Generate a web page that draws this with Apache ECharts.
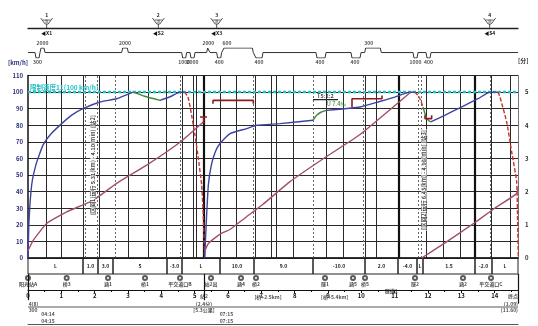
<!DOCTYPE html>
<html>
<head>
<meta charset="utf-8">
<script src="https://cdn.jsdelivr.net/npm/echarts@6/dist/echarts.min.js"></script>
<style>
html,body{margin:0;padding:0;background:#fff;}
#c{width:538px;height:326px;}
</style>
</head>
<body>
<div id="c"></div>
<script>
// ---- run profile data: distance in km, speed in km/h, time in minutes ----
const KM_MAX = 14.7;
const SPEED_LIMIT = 100;

// traction (blue), coasting (green), braking (red) pieces of the speed curve
const driveA  = [[0,0],[0.03,22],[0.11,44],[0.25,57],[0.45,68],[0.7,75],[1.01,81],[1.3,86],[1.65,90],[2.16,94],[2.66,96],[3.15,100]];
const coastA  = [[3.15,100],[3.5,97.5],[3.96,95]];
const driveA2 = [[3.96,95],[4.3,97.5],[4.56,100],[4.7,100]];
const brakeA  = [[4.7,100],[4.8,97],[4.91,86],[5.01,74],[5.11,60],[5.21,44],[5.26,25],[5.3,0]];

const driveB  = [[5.3,0],[5.35,22],[5.41,44],[5.5,56],[5.62,64],[5.76,69],[6.06,75],[6.56,78],[6.86,80],[7.56,81],[8.55,83]];
const coastB  = [[8.55,83],[8.66,86],[8.8,88],[8.96,89]];
const driveB2 = [[8.96,89],[9.96,91],[10.5,94],[11.0,97],[11.46,100],[11.6,100]];
const brakeB  = [[11.6,100],[11.7,98],[11.78,95],[11.85,91]];
const coastC  = [[11.85,91],[11.96,84],[12.08,82]];
const driveC  = [[12.08,82],[12.5,86],[13.0,91],[13.5,96],[13.86,100],[14.1,100]];
const brakeC  = [[14.1,100],[14.16,97],[14.36,82],[14.51,64],[14.66,46],[14.69,20],[14.71,0]];

// cumulative running time per section (right axis, minutes)
const timeA = [[0,0.22],[0.16,0.54],[0.56,1.04],[1.16,1.39],[1.96,1.74],[2.66,2.25],[3.56,2.8],[4.56,3.49],[5.26,4.1]];
const timeB = [[5.3,0.2],[5.4,0.42],[5.55,0.56],[5.8,0.74],[6.06,0.86],[6.5,1.2],[7.05,1.62],[7.86,2.3],[8.9,3.02],[9.96,3.72],[11.46,4.98]];
const timeC = [[11.81,0],[12.5,0.45],[13.41,1.07],[14.0,1.5],[14.66,1.94],[14.71,2.15]];

// target-speed brackets
const bracket1 = [[5.55,93],[5.55,95],[6.76,95],[6.76,93]];
const bracket2 = [[9.72,91],[9.72,96],[10.62,96],[10.62,98]];
const bracket3 = [[5.16,85],[5.37,85]];
const bracket3s = [[5.27,85],[5.27,81]];
const bracket4 = [[11.91,86],[11.91,84],[12.11,84],[12.11,86]];
const bracket5 = [[8.55,95.5],[9.3,95.5]];

// axis ticks
const speedTicks = {min:0, max:110, step:10};
const timeTicks = {min:0, max:5.5, step:1};

// grade sections
const gradeFrom = [0,1.65,2.1,2.55,4.17,4.62,5.76,6.78,8.55,10.11,11.1,11.67,11.85,13.41,13.92];
const gradeTo   = [1.65,2.1,2.55,4.17,4.62,5.76,6.78,8.55,10.11,11.1,11.67,11.85,13.41,13.92,14.7];
const gradeText = ['L','1.0','3.0','5','-3.0','L','10.0','9.0','-10.0','2.0','-4.0','L','1.5','-2.0','L'];

// curves: +1 right, -1 left, with radius
const curveFrom = [0.21,0.36,2.81,4.61,4.86,5.36,5.66,5.85,6.81,8.64,9.69,10.1,11.55,11.94];
const curveTo   = [0.36,0.51,3.01,4.76,5.01,5.46,5.81,6.76,7.05,8.94,9.99,10.6,11.7,12.09];
const curveDir  = [-1,1,1,-1,-1,1,-1,1,-1,-1,-1,1,-1,-1];
const curveRad  = ['300','2000','2000','1000','2000','2000','400','600','400','400','400','300','1000','400'];

// signals
const signalKm = [0.56,3.91,5.66,13.85];
const signalNo = ['1','2','3','4'];
const signalName = ['X1','S2','X3','S4'];

// wayside objects
const siteKm = [0,1.16,2.4,3.51,4.56,5.49,6.39,6.84,8.91,9.75,10.11,11.61,13.05,13.89];
const siteName = ['阳光站A','桥3','涵1','桥1','平交道口B','站2出','涵4','桥2','隧1','涵5','桥5','隧2','涵2','平交道口C'];

// grid marks along the line
const solidKm = [0.54,1.01,1.66,2.13,3.01,3.61,4.16,4.63,4.96,5.04,5.76,6.26,6.81,7.31,7.46,7.96,8.96,9.46,10.11,10.46,11.96,12.46,12.96,13.91,14.46];
const heavyKm = [5.28,11.11,13.41];
const dashKm = [1.71,2.08,2.61,4.56,6.76,8.56,10.06,11.71,11.81,13.86];
const stopKm = [0,5.28,14.7];

// station notes under the km scale
const noteKm    = [0.02,0.02,5.28,5.28,5.28,14.7,14.7,14.7,0.4,0.4,5.75,5.75,7.2,9.2,10.9];
const noteLevel = [0.59,0.41,0.82,0.59,0.41,0.82,0.59,0.41,0.29,0.09,0.29,0.09,0.8,0.8,0.97];
const noteText  = ['4(8)','300','站2','(2.4分)','[5.3公里]','终点','(1.09)','(11.60)','04:14','04:15','07:15','07:15','[桥+2.5km]','[桥+5.4km]','隧道1'];
const noteAlign = ['left','left','center','center','center','right','right','right','left','left','left','left','center','center','center'];

// section summaries written along the curve
const sumKm = [1.95,11.88];
const sumSpeed = [56,47];
const sumText = ['[区间1]运行 5.31(km) - 4.10(min) [站2]','[区间2]运行 6.43(km) - 4.98(min) [站3]'];

const FONT = "'Noto Sans CJK SC','DejaVu Sans',sans-serif";
const BLUE = '#3d43a0', GREEN = '#3f8a3a', RED = '#c8322b', MAUVE = '#a24f6e', MAROON = '#8e1b1f', CYAN = '#25bfc4';

const chart = echarts.init(document.getElementById('c'));

function seg(data, color, dashed, yIdx) {
  return {
    type:'line', xAxisIndex:0, yAxisIndex:yIdx||0, data, symbol:'none', silent:true, z:6,
    smooth:0.15, lineStyle:{color, width:1.4, type: dashed ? [4,2] : 'solid'}
  };
}
function poly(data, color, w) {
  return {type:'line', xAxisIndex:0, yAxisIndex:0, data, symbol:'none', silent:true, z:7,
    lineStyle:{color, width:w||1.6}};
}

// curve diagram line
const curvePts = [[0,0]];
curveFrom.forEach((s,i)=>{
  const e = curveTo[i], lv = curveDir[i] > 0 ? 1 : -1.2;
  curvePts.push([s,0],[s+0.03,lv],[e-0.03,lv],[e,0]);
});
curvePts.push([KM_MAX,0]);
const curveLabels = curveFrom.map((s,i)=>{
  const e = curveTo[i];
  const x = s + Math.min((e-s)/2, 0.12);
  return {value:[x, curveDir[i] > 0 ? 1 : -1.2], label:{position: curveDir[i] > 0 ? 'top' : 'bottom', formatter: curveRad[i]}};
});

const vLines = [];
solidKm.forEach(v=>vLines.push({xAxis:v, lineStyle:{color:'#2a2a2a', width:1, type:'solid'}}));
heavyKm.forEach(v=>vLines.push({xAxis:v, lineStyle:{color:'#111', width:2.2, type:'solid'}}));
dashKm.forEach(v=>vLines.push({xAxis:v, lineStyle:{color:'#666', width:1, type:[2,2]}}));

const grids = [
  {left:28, right:20, top:75.5, height:182.5},
  {left:28, right:20, top:258, height:16},
  {left:28, right:20, top:274, height:16},
  {left:28, right:20, top:290, height:34},
  {left:28, right:20, top:0, height:28},
  {left:28, right:20, top:48, height:10}
];
const kmAxis = (gi, extra) => Object.assign({type:'value', gridIndex:gi, min:0, max:KM_MAX, splitLine:{show:false}, axisTick:{show:false}, axisLabel:{show:false}, axisLine:{show:false}}, extra||{});
const hidY = (gi, mn, mx) => ({type:'value', gridIndex:gi, min:mn, max:mx, show:false});

const option = {
  backgroundColor:'#fff',
  animation:false,
  textStyle:{fontFamily:FONT},
  grid: grids,
  xAxis: [
    kmAxis(0, {axisLine:{show:true, onZero:false, lineStyle:{color:'#111', width:1.5}}}),
    kmAxis(1),
    kmAxis(2, {axisLine:{show:true, onZero:false, lineStyle:{color:'#111', width:1}},
      interval:1, axisTick:{show:true, length:3, lineStyle:{color:'#111'}},
      minorTick:{show:true, splitNumber:2, length:2, lineStyle:{color:'#111'}},
      axisLabel:{show:true, fontSize:6, fontWeight:'bold', color:'#111', margin:3,
        formatter: v => Number.isInteger(v) && v <= 14 ? String(v) : ''}}),
    kmAxis(3, {axisLine:{show:true, onZero:false, lineStyle:{color:'#555', width:1}}}),
    kmAxis(4, {axisLine:{show:true, onZero:false, lineStyle:{color:'#222', width:1.3}}}),
    kmAxis(5)
  ],
  yAxis: [
    {type:'value', gridIndex:0, min:speedTicks.min, max:speedTicks.max, interval:speedTicks.step,
      name:'[km/h]', nameLocation:'end', nameGap:10,
      nameTextStyle:{fontSize:6, color:'#2a2f7a', align:'right', fontWeight:'bold'},
      axisLine:{show:true, onZero:false, lineStyle:{color:'#111', width:1.5}},
      axisTick:{show:false},
      axisLabel:{fontSize:6, color:'#2a2f7a', fontWeight:'bold', margin:5},
      splitLine:{show:true, lineStyle:{color:'#2a2a2a', width:1}}},
    {type:'value', gridIndex:0, min:timeTicks.min, max:timeTicks.max, interval:timeTicks.step, position:'right',
      name:'[分]', nameLocation:'end', nameGap:12,
      nameTextStyle:{fontSize:6, color:'#333', align:'left', fontWeight:'bold'},
      axisLine:{show:true, onZero:false, lineStyle:{color:'#777', width:1}},
      axisTick:{show:false},
      axisLabel:{fontSize:6, color:'#333', fontWeight:'bold', margin:7, formatter: v => Number.isInteger(v) ? String(v) : ''},
      splitLine:{show:false}},
    hidY(1,0,1), hidY(2,0,1), hidY(3,0,1), hidY(4,0,1), hidY(5,-1.2,1)
  ],
  series: [
    // vertical marks and speed limit
    {type:'line', xAxisIndex:0, yAxisIndex:0, data:[], silent:true,
      markLine:{symbol:'none', silent:true, label:{show:false}, animation:false, data: vLines, z:2}},
    {type:'line', xAxisIndex:0, yAxisIndex:0, data:[], silent:true, z:4,
      markLine:{symbol:'none', silent:true, animation:false,
        lineStyle:{color:CYAN, width:2.4, type:[3,2]},
        label:{show:true, position:'insideStartTop', distance:[2,1], color:CYAN, fontSize:6.5, fontWeight:'bold',
          formatter:'限制速度11(' + SPEED_LIMIT + ' km/h)'},
        data:[{yAxis:SPEED_LIMIT}]}},

    // speed curve
    seg(driveA, BLUE), seg(coastA, GREEN), seg(driveA2, BLUE), seg(brakeA, RED, true),
    seg(driveB, BLUE), seg(coastB, GREEN), seg(driveB2, BLUE), seg(brakeB, RED, true),
    seg(coastC, GREEN), seg(driveC, BLUE), seg(brakeC, RED, true),

    // running time
    seg(timeA, MAUVE, false, 1), seg(timeB, MAUVE, false, 1), seg(timeC, MAUVE, false, 1),

    // target-speed brackets
    poly(bracket1, MAROON), poly(bracket2, MAROON), poly(bracket3, MAROON), poly(bracket3s, MAROON),
    poly(bracket4, MAROON), poly(bracket5, '#222', 1.2),

    // small notes in the plot
    {type:'scatter', xAxisIndex:0, yAxisIndex:0, symbolSize:0, silent:true, z:8,
      data:[{value:[8.92,97.5], label:{formatter:'T5:2:2', color:'#222'}},
            {value:[9.25,93], label:{formatter:'U 7.4‰', color:GREEN}}],
      label:{show:true, position:'inside', fontSize:5.5, fontWeight:'bold'}},

    // section summaries
    {type:'scatter', xAxisIndex:0, yAxisIndex:0, symbolSize:0, silent:true, z:8,
      data: sumKm.map((k,i)=>({value:[k, sumSpeed[i]], label:{formatter:sumText[i]}})),
      label:{show:true, position:'inside', rotate:90, fontSize:5.5, fontWeight:'bold', color:'#111',
        backgroundColor:'#fff', padding:[0,1]}},

    // grade strip
    {type:'custom', xAxisIndex:1, yAxisIndex:2, silent:true,
      data: gradeFrom.map((s,i)=>[s, gradeTo[i]]),
      renderItem: (params, api) => {
        const p0 = api.coord([api.value(0), 1]);
        const p1 = api.coord([api.value(1), 0]);
        return {type:'group', children:[
          {type:'rect', shape:{x:p0[0], y:p0[1], width:p1[0]-p0[0], height:p1[1]-p0[1]},
            style:{fill:'none', stroke:'#222', lineWidth:1}},
          {type:'text', style:{text: gradeText[params.dataIndex], x:(p0[0]+p1[0])/2, y:(p0[1]+p1[1])/2,
            align:'center', verticalAlign:'middle', font:'bold 5px ' + FONT, fill:'#222'}}
        ]};
      }},

    // wayside objects row
    {type:'scatter', xAxisIndex:2, yAxisIndex:3, silent:true,
      symbol:'emptyCircle', symbolSize:4, itemStyle:{color:'#333', borderWidth:0.8},
      data: siteKm.map((k,i)=>({value:[k,0.75], label:{formatter: siteName[i]}})),
      label:{show:true, position:'bottom', distance:1, fontSize:5, fontWeight:'bold', color:'#111'}},
    {type:'line', xAxisIndex:2, yAxisIndex:3, data:[], silent:true,
      markLine:{symbol:'none', silent:true, label:{show:false}, animation:false,
        lineStyle:{color:'#111', width:1.2, type:'solid'},
        data: stopKm.map(k=>({xAxis:k}))}},

    // notes under km scale + separator
    {type:'scatter', xAxisIndex:3, yAxisIndex:4, symbolSize:0, silent:true,
      data: noteKm.map((k,i)=>({value:[k, noteLevel[i]], label:{formatter: noteText[i], align: noteAlign[i]}})),
      label:{show:true, position:'inside', fontSize:5, fontWeight:'bold', color:'#222'},
      markLine:{symbol:'none', silent:true, label:{show:false}, animation:false,
        data:[
          {yAxis:0.5, lineStyle:{color:'#aaa', width:2, type:'solid'}},
          [{coord:[5.28,1]},{coord:[5.28,0.7]}],
          [{coord:[0,1]},{coord:[0,0.7]}],
          [{coord:[14.7,1]},{coord:[14.7,0.6]}]
        ], lineStyle:{color:'#111', width:1.2, type:'solid'}}},

    // signals
    {type:'custom', xAxisIndex:4, yAxisIndex:5, silent:true,
      data: signalKm.map(k=>[k]),
      renderItem: (params, api) => {
        const p = api.coord([api.value(0), 0]);
        const x = p[0], y = p[1];
        const i = params.dataIndex;
        return {type:'group', children:[
          {type:'text', style:{text:signalNo[i], x, y:y-13, align:'center', verticalAlign:'middle', font:'bold 5px ' + FONT, fill:'#222'}},
          {type:'polyline', shape:{points:[[x-6,y-10],[x-1.5,y-4],[x+1.5,y-4],[x+6,y-10]]}, style:{stroke:'#444', fill:'none', lineWidth:0.9}},
          {type:'line', shape:{x1:x-4,y1:y-8,x2:x+4,y2:y-8}, style:{stroke:'#444', lineWidth:0.8}},
          {type:'text', style:{text:'进', x, y:y-6.5, align:'center', verticalAlign:'middle', font:'3.5px ' + FONT, fill:'#333'}},
          {type:'line', shape:{x1:x,y1:y-4,x2:x,y2:y}, style:{stroke:'#444', lineWidth:0.9}},
          {type:'text', style:{text:'◀' + signalName[i], x, y:y+5.5, align:'center', verticalAlign:'middle', font:'bold 5px ' + FONT, fill:'#111'}}
        ]};
      }},

    // curve diagram
    {type:'line', xAxisIndex:5, yAxisIndex:6, data: curvePts, symbol:'none', silent:true,
      lineStyle:{color:'#333', width:1}},
    {type:'scatter', xAxisIndex:5, yAxisIndex:6, symbolSize:0, silent:true,
      data: curveLabels,
      label:{show:true, distance:2, fontSize:5, fontWeight:'bold', color:'#222'}}
  ]
};
chart.setOption(option);
</script>
</body>
</html>
